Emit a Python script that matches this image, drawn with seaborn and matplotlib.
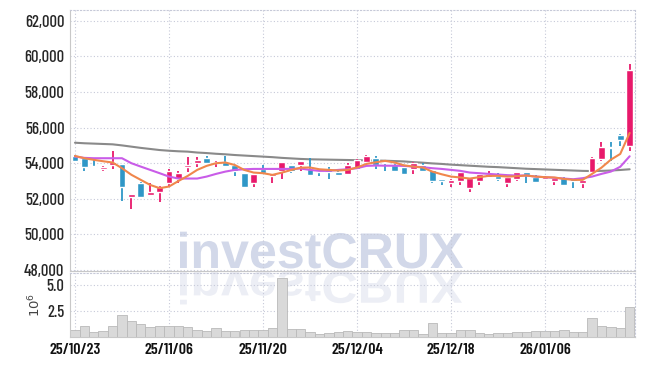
import numpy as np
import pandas as pd
import matplotlib.pyplot as plt
import matplotlib.transforms as mtransforms
from matplotlib.textpath import TextPath
from matplotlib.patches import PathPatch
from matplotlib.font_manager import FontProperties
import seaborn as sns

dates = [
    "25/10/23", "25/10/24", "25/10/27", "25/10/28", "25/10/29", "25/10/30", "25/10/31",
    "25/11/03", "25/11/04", "25/11/05", "25/11/06", "25/11/07", "25/11/10", "25/11/11",
    "25/11/12", "25/11/13", "25/11/14", "25/11/17", "25/11/18", "25/11/19", "25/11/20",
    "25/11/21", "25/11/24", "25/11/25", "25/11/26", "25/11/27", "25/11/28", "25/12/01",
    "25/12/02", "25/12/03", "25/12/04", "25/12/05", "25/12/08", "25/12/09", "25/12/10",
    "25/12/11", "25/12/12", "25/12/15", "25/12/16", "25/12/17", "25/12/18", "25/12/19",
    "25/12/22", "25/12/23", "25/12/24", "25/12/26", "25/12/29", "25/12/30", "26/01/02",
    "26/01/05", "26/01/06", "26/01/07", "26/01/08", "26/01/09", "26/01/12", "26/01/13",
    "26/01/14", "26/01/15", "26/01/16", "26/01/19",
]

opens = [54410, 54280, 53820, 53660, 53900, 53960, 52100, 52915, 52240, 52390,
         52880, 53140, 53780, 54000, 54300, 54000, 54090, 53900, 53440, 52880,
         53680, 53290, 53550, 53925, 53890, 53680, 53570, 53680, 53530, 53380,
         53700, 54075, 54300, 54075, 53925, 53780, 53660, 53925, 53630, 53140,
         52880, 52990, 52600, 52990, 53250, 53310, 52880, 53140, 53530, 53250,
         53100, 52990, 53180, 53180, 52880, 53480, 54260, 54920, 55600, 54940]
highs = [54450, 54300, 54220, 53850, 54670, 53980, 52300, 52920, 52880, 52700,
         53680, 53550, 54370, 54370, 54410, 54150, 54410, 53910, 53440, 53420,
         53900, 53420, 54090, 53925, 54110, 54280, 53700, 53810, 53680, 54000,
         54260, 54450, 54410, 54150, 53960, 53780, 54075, 54000, 53630, 53140,
         53140, 53530, 53180, 53400, 53550, 53440, 53210, 53530, 53530, 53340,
         53310, 53180, 53250, 53180, 53070, 54370, 55190, 55190, 55620, 59590]
lows = [54100, 53590, 53780, 53590, 53700, 51900, 51420, 52090, 52200, 51800,
        52690, 52915, 53530, 53810, 54040, 53780, 53870, 53290, 52650, 52690,
        53440, 52915, 53100, 53440, 53550, 53290, 53290, 53100, 53290, 53340,
        53640, 54075, 53680, 53550, 53550, 53400, 53400, 53510, 52880, 52770,
        52690, 52770, 52410, 52770, 53180, 52990, 52650, 52990, 52880, 52930,
        53030, 52770, 52730, 52620, 52600, 53480, 54150, 54110, 54990, 54660]
closes = [54150, 53775, 53780, 53810, 54090, 52650, 52280, 52090, 52410, 52690,
          53550, 53440, 53925, 54190, 54040, 54090, 53870, 53550, 52650, 53400,
          53440, 53400, 54075, 53550, 54110, 53360, 53510, 53480, 53360, 53900,
          54190, 54410, 53890, 54040, 53550, 53400, 54040, 53550, 52990, 52990,
          53030, 53530, 53180, 53400, 53400, 53100, 53210, 53530, 53340, 52970,
          53250, 53180, 52770, 53010, 53070, 54300, 54930, 54880, 55290, 59210]

ma_short = [54410, 54280, 54190, 54110, 54040, 53720, 53350, 53065, 52780, 52600,
            52690, 53000, 53290, 53625, 53850, 54000, 54040, 53900, 53625, 53475,
            53440, 53345, 53470, 53620, 53750, 53760, 53660, 53625, 53590, 53625,
            53760, 53960, 54055, 54130, 54040, 53880, 53810, 53760, 53530, 53380,
            53250, 53200, 53140, 53215, 53290, 53290, 53250, 53270, 53310, 53250,
            53215, 53200, 53120, 53065, 53065, 53400, 53750, 54200, 54520, 55700]
ma_mid = [54375, 54300, 54280, 54280, 54280, 54280, 54000, 53810, 53625, 53440,
          53250, 53140, 53140, 53140, 53250, 53400, 53530, 53625, 53660, 53680,
          53680, 53680, 53680, 53680, 53700, 53625, 53570, 53570, 53625, 53660,
          53720, 53850, 53870, 53860, 53860, 53850, 53810, 53775, 53720, 53680,
          53625, 53570, 53475, 53440, 53400, 53365, 53330, 53310, 53310, 53250,
          53215, 53180, 53140, 53100, 53160, 53250, 53400, 53530, 53800, 54390]
ma_long = [55150, 55120, 55100, 55080, 55060, 55000, 54930, 54860, 54800, 54740,
           54700, 54670, 54650, 54600, 54570, 54530, 54500, 54460, 54430, 54400,
           54370, 54340, 54300, 54270, 54240, 54220, 54210, 54200, 54190, 54180,
           54170, 54160, 54150, 54140, 54120, 54100, 54060, 54030, 53990, 53960,
           53920, 53890, 53860, 53830, 53800, 53780, 53750, 53720, 53690, 53670,
           53650, 53630, 53610, 53590, 53570, 53560, 53570, 53590, 53620, 53660]

volume = [0.63, 1.03, 0.47, 0.60, 1.03, 2.10, 1.50, 1.25, 0.94, 1.10,
          1.03, 1.10, 0.94, 0.70, 0.56, 0.85, 0.60, 0.60, 0.65, 0.65,
          0.65, 0.85, 5.70, 0.75, 0.75, 0.47, 0.28, 0.37, 0.47, 0.56,
          0.47, 0.47, 0.37, 0.37, 0.37, 0.65, 0.65, 0.28, 1.30, 0.37,
          0.37, 0.65, 0.65, 0.37, 0.28, 0.37, 0.37, 0.47, 0.47, 0.56,
          0.56, 0.56, 0.65, 0.47, 0.47, 1.80, 1.03, 0.94, 0.85, 2.90]

UP = "#e8196b"
DOWN = "#2f97c7"
GRID = "#c6c9d8"

df = pd.DataFrame({"date": dates, "open": opens, "high": highs, "low": lows,
                   "close": closes, "volume": volume})
df["x"] = np.arange(len(df))
df["color"] = np.where(df["close"] >= df["open"], UP, DOWN)

sns.set_style("white")
plt.rcParams["font.family"] = ["Barlow Condensed", "DejaVu Sans"]

fig = plt.figure(figsize=(6.45, 3.66), dpi=100)
ax = fig.add_axes([70 / 645, 1 - 271 / 366, 565 / 645, 261 / 366])
axv = fig.add_axes([70 / 645, 1 - 337 / 366, 565 / 645, 64 / 366])
for a in (ax, axv):
    a.set_facecolor("none")

# watermark + its reflection, drawn in pixel coords behind the axes
fp = FontProperties(family="Liberation Sans", weight="bold")
wm = TextPath((0, 0), "investCRUX", size=1, prop=fp)
ext = wm.get_extents()
s = 283 / (ext.x1 - ext.x0)
x0 = 180 - ext.x0 * s
t_up = mtransforms.Affine2D().scale(s, s).translate(x0, 366 - 268)
t_dn = mtransforms.Affine2D().scale(s, -s * 0.92).translate(x0, 366 - 271)
fig.add_artist(PathPatch(wm, transform=t_up, facecolor="#d2d8e9", edgecolor="none", zorder=-1))
fig.add_artist(PathPatch(wm, transform=t_dn, facecolor="#eceef5", edgecolor="none", zorder=-1))

# candles
ax.vlines(df["x"], df["low"], df["high"], colors=df["color"], lw=1.3, zorder=3)
body = (df["close"] - df["open"]).abs().clip(lower=45)
ax.bar(df["x"], body, bottom=df[["open", "close"]].min(axis=1), width=0.72,
       color=df["color"], zorder=4)

sns.lineplot(x=df["x"], y=ma_long, ax=ax, color="#8a8a8a", lw=1.5, zorder=2)
sns.lineplot(x=df["x"], y=ma_mid, ax=ax, color="#c95ce8", lw=1.5, zorder=5)
sns.lineplot(x=df["x"], y=ma_short, ax=ax, color="#f0874c", lw=1.5, zorder=5)

ax.set_ylim(47950, 62600)
ax.set_yticks(range(48000, 62001, 2000))
ax.set_yticklabels([f"{v:,}" for v in range(48000, 62001, 2000)], fontsize=12,
                   fontweight=500, color="#262626")
ax.set_xlim(-0.53, 59.57)
ax.set_xticks(range(0, 60, 10))
ax.tick_params(axis="x", labelbottom=False, length=0)
ax.tick_params(axis="y", length=0, pad=4)
ax.set_ylabel("")
ax.set_xlabel("")
ax.grid(True, color=GRID, ls=(0, (1, 2)), lw=0.8)

# volume
sns.barplot(x=df["x"], y=df["volume"], ax=axv, color="#d9d9d9", edgecolor="#b9b9b9",
            linewidth=0.6, width=1.0, saturation=1)
axv.set_xlim(-0.53, 59.57)
axv.set_ylim(0, 6.15)
axv.set_yticks([2.5, 5.0])
axv.set_yticklabels(["2.5", "5.0"], fontsize=12, fontweight=500, color="#262626")
axv.set_xticks(range(0, 60, 10))
axv.set_xticklabels([dates[i] for i in range(0, 60, 10)], fontsize=11.5, fontweight=600,
                    color="#111111")
axv.tick_params(length=0, pad=4)
axv.set_xlabel("")
axv.set_ylabel(r"$10^6$", fontsize=9.5, color="#444444", labelpad=2)
axv.grid(True, color=GRID, ls=(0, (1, 2)), lw=0.8)

for a in (ax, axv):
    for side in ("left", "bottom"):
        a.spines[side].set_color("#c8c8c8")
        a.spines[side].set_linewidth(0.8)
    for side in ("top", "right"):
        a.spines[side].set_color(GRID)
        a.spines[side].set_linestyle((0, (1, 2)))
        a.spines[side].set_linewidth(0.8)

fig.savefig("out.png", dpi=100)
